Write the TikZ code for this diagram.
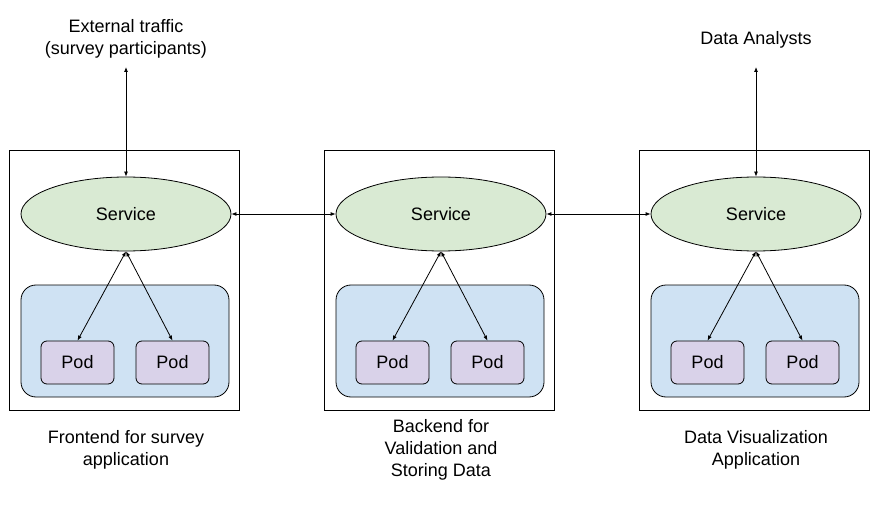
\documentclass[tikz,border=0pt]{standalone}
\usepackage{fontspec}
\setmainfont{Liberation Sans}
\usepackage{xcolor}
\usetikzlibrary{shapes.geometric, arrows.meta, positioning}

\definecolor{svcgreen}{HTML}{D9EAD3}
\definecolor{grpblue}{HTML}{CFE2F3}
\definecolor{podpurple}{HTML}{D9D2E9}

\tikzset{
  appbox/.style={draw, line width=0.8pt, minimum width=230, minimum height=260, inner sep=0},
  svc/.style={ellipse, draw, fill=svcgreen, line width=0.8pt, minimum width=210, minimum height=74, inner sep=0},
  podgroup/.style={draw, fill=grpblue, rounded corners=15, line width=0.8pt, minimum width=208, minimum height=112, inner sep=0},
  pod/.style={draw, fill=podpurple, rounded corners=6, line width=0.8pt, minimum width=73, minimum height=43, inner sep=0},
  caption/.style={align=center},
  link/.style={{Latex[length=5pt,width=4pt]}-{Latex[length=5pt,width=4pt]}, line width=0.8pt}
}

\begin{document}
\begin{tikzpicture}[x=1pt, y=-1pt, font=\fontsize{18}{22}\selectfont]
  \useasboundingbox (0,0) rectangle (881,505);

  % frontend
  \node[appbox] (appA) at (124,280) {};
  \node[podgroup] (grpA) at (125,341) {};
  \node[svc] (svcA) at (126,214) {Service};
  \node[pod] (podA1) at (77.5,362.5) {Pod};
  \node[pod] (podA2) at (172.5,362.5) {Pod};
  \node[caption] (capA) at (126,450) {Frontend for survey\\application};
  \node[caption] (extA) at (126,39) {External traffic\\(survey participants)};
  \coordinate (inA) at (126,67);

  % backend
  \node[appbox] (appB) at (439,280) {};
  \node[podgroup] (grpB) at (440,341) {};
  \node[svc] (svcB) at (441,214) {Service};
  \node[pod] (podB1) at (392.5,362.5) {Pod};
  \node[pod] (podB2) at (487.5,362.5) {Pod};
  \node[caption] (capB) at (441,450) {Backend for\\Validation and\\Storing Data};

  % visualization
  \node[appbox] (appC) at (754,280) {};
  \node[podgroup] (grpC) at (755,341) {};
  \node[svc] (svcC) at (756,214) {Service};
  \node[pod] (podC1) at (707.5,362.5) {Pod};
  \node[pod] (podC2) at (802.5,362.5) {Pod};
  \node[caption] (capC) at (756,450) {Data Visualization\\Application};
  \node[caption] (extC) at (756,40) {Data Analysts};
  \coordinate (inC) at (756,67);

  \draw[link] (inA) -- (svcA.north);
  \draw[link] (inC) -- (svcC.north);
  \draw[link] (svcA.east) -- (svcB.west);
  \draw[link] (svcB.east) -- (svcC.west);

  \draw[link] (svcA.south) -- (podA1.north);
  \draw[link] (svcA.south) -- (podA2.north);
  \draw[link] (svcB.south) -- (podB1.north);
  \draw[link] (svcB.south) -- (podB2.north);
  \draw[link] (svcC.south) -- (podC1.north);
  \draw[link] (svcC.south) -- (podC2.north);
\end{tikzpicture}
\end{document}
